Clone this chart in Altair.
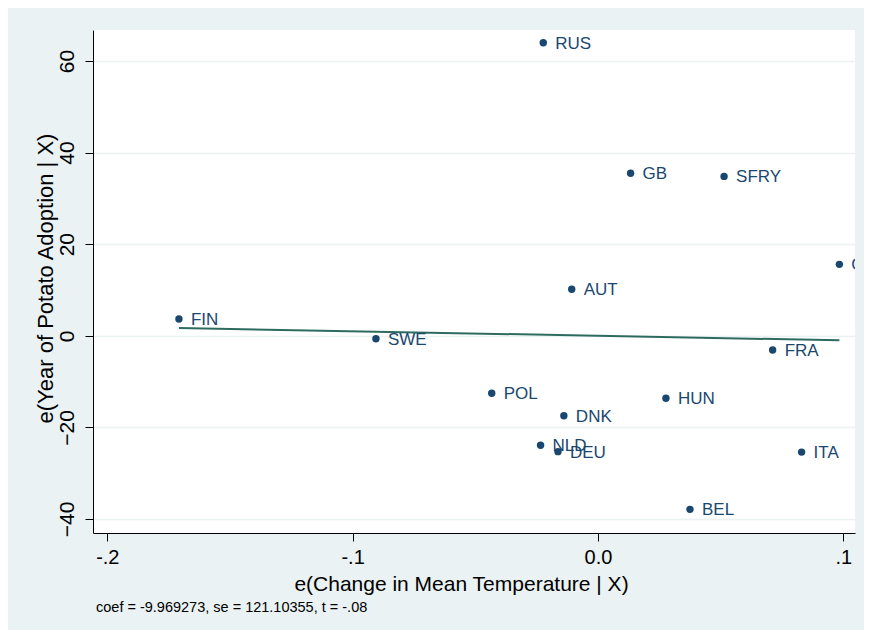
import altair as alt
import pandas as pd

countries = ["RUS", "GB", "SFRY", "GR", "AUT", "FIN", "SWE", "FRA", "POL", "HUN",
             "DNK", "NLD", "DEU", "ITA", "BEL"]
ex = [-0.0223, 0.0133, 0.0514, 0.0984, -0.0107, -0.1708, -0.0905, 0.0712, -0.0433,
      0.0277, -0.0139, -0.0234, -0.0163, 0.0830, 0.0375]
ey = [64.0, 35.5, 34.8, 15.6, 10.15, 3.67, -0.63, -3.1, -12.55, -13.65, -17.45,
      -23.9, -25.3, -25.4, -37.9]
coef = -9.969273
x_ticks = [-0.2, -0.1, 0.0, 0.1]
x_tick_labels = ["-.2", "-.1", "0", ".1"]
y_ticks = [-40, -20, 0, 20, 40, 60]
note = "coef = -9.969273, se = 121.10355, t = -.08"

pts = pd.DataFrame({"country": countries, "x": ex, "y": ey})
fit_x = [min(ex), max(ex)]
fit = pd.DataFrame({"x": fit_x, "y": [coef * v for v in fit_x]})

navy = "#1A476F"
FONT = "Liberation Sans"
label_map = "{" + ",".join(f"'{v}':'{l}'" for v, l in zip(x_ticks, x_tick_labels)) + "}"

xs = alt.Scale(domain=[-0.20583, 0.10477], nice=False, zero=False)
ys = alt.Scale(domain=[-43.06, 66.77], nice=False, zero=False)

xaxis = alt.Axis(values=x_ticks, labelExpr=f"{label_map}[toString(datum.value)] || datum.label",
                 grid=False, domainColor="black", tickColor="black", tickSize=8,
                 labelFontSize=20, labelColor="black", labelFont=FONT, labelPadding=6,
                 title="e(Change in Mean Temperature | X)", titleFontSize=21,
                 titleFontWeight="normal", titleFont=FONT, titleColor="black",
                 titleX=368, titleY=51, titleAlign="center", titleBaseline="middle")
yaxis = alt.Axis(values=y_ticks, grid=True, gridColor="#EAF2F3", gridWidth=1.5,
                 domainColor="black", tickColor="black", tickSize=8,
                 labelFontSize=21, labelColor="black", labelFont=FONT, labelAngle=270,
                 labelAlign="center", labelBaseline="bottom", labelPadding=8,
                 title="e(Year of Potato Adoption | X)", titleFontSize=22,
                 titleFontWeight="normal", titleFont=FONT, titleColor="black",
                 titleX=-48, titleY=248, titleAngle=270, titleAlign="center",
                 titleBaseline="middle")

base_x = alt.X("x:Q", scale=xs, axis=xaxis)
base_y = alt.Y("y:Q", scale=ys, axis=yaxis)

line = alt.Chart(fit).mark_line(color="#2E6B5F", strokeWidth=2).encode(x=base_x, y=base_y)
points = alt.Chart(pts).mark_point(filled=True, shape="circle", size=55, color=navy,
                                   opacity=1).encode(x=base_x, y=base_y)
labels = alt.Chart(pts).mark_text(align="left", baseline="middle", dx=12, dy=1,
                                  fontSize=17, font=FONT, color=navy, clip=True
                                  ).encode(x=base_x, y=base_y, text="country:N")
note_t = alt.Chart(pd.DataFrame({"t": [note]})).mark_text(
    align="left", baseline="middle", fontSize=14.5, font=FONT, color="black"
).encode(x=alt.value(3), y=alt.value(578), text="t:N")

chart = alt.layer(line, points, labels, note_t).properties(
    width=762, height=503,
    autosize=alt.AutoSizeParams(type="none"),
    padding={"left": 85, "top": 22, "right": 9, "bottom": 97},
).configure(background="#EAF2F3").configure_view(fill="white", stroke=None)

chart.save("out.html", embed_options={"renderer": "svg", "actions": False})
